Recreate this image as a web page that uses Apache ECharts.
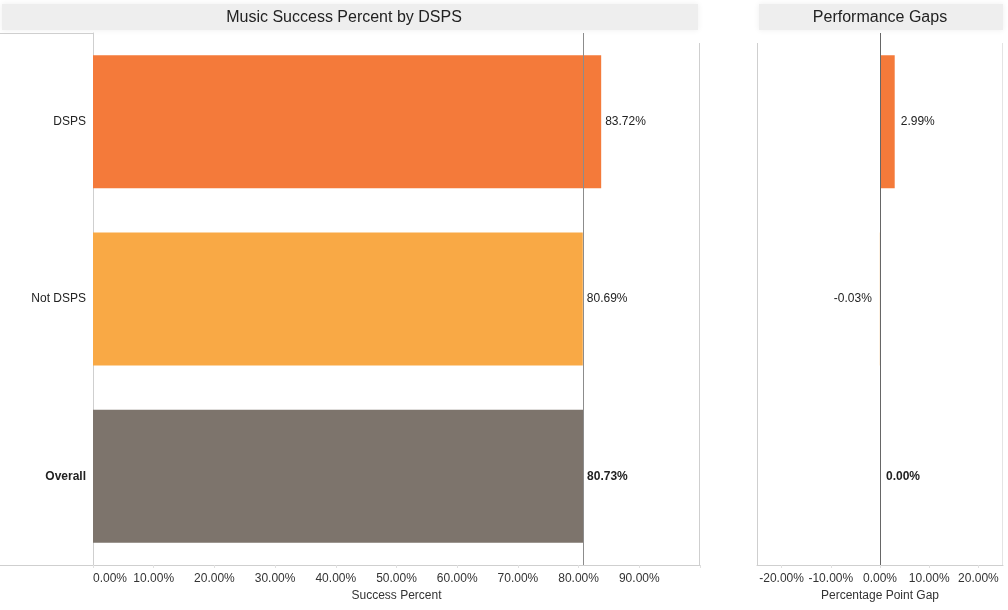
<!DOCTYPE html>
<html>
<head>
<meta charset="utf-8">
<script src="https://cdn.jsdelivr.net/npm/echarts@6/dist/echarts.min.js"></script>
<style>
html,body{margin:0;padding:0;background:#fff;}
#chart{width:1008px;height:610px;}
</style>
</head>
<body>
<div id="chart"></div>
<script>
// ---- data ----
var categories = ['DSPS', 'Not DSPS', 'Overall'];
var successPct = [83.72, 80.69, 80.73];
var gapPct = [2.99, -0.03, 0.00];
var overallRef = 80.73;
var leftTicks = [0, 10, 20, 30, 40, 50, 60, 70, 80, 90];
var rightTicks = [-20, -10, 0, 10, 20];

// ---- styles ----
var barColors = ['#F47A3A', '#F9A945', '#7D746C'];
var boldCat = 'Overall';

function pct(v) { return v.toFixed(2) + '%'; }

var chart = echarts.init(document.getElementById('chart'), null, {renderer: 'canvas'});

var leftData = successPct.map(function (v, i) {
  return {
    value: v,
    itemStyle: {color: barColors[i]},
    label: {fontWeight: categories[i] === boldCat ? 'bold' : 'normal'}
  };
});
var rightData = gapPct.map(function (v, i) {
  return {
    value: v,
    itemStyle: {color: barColors[i]},
    label: {
      fontWeight: categories[i] === boldCat ? 'bold' : 'normal',
      position: v < 0 ? 'left' : 'right',
      distance: v < 0 ? 8 : 6
    }
  };
});

var lineColor = '#cfcfcf';

var option = {
  animation: false,
  backgroundColor: '#ffffff',
  textStyle: {fontFamily: 'Liberation Sans, Arial, sans-serif'},
  grid: [
    {left: 93, right: 308, top: 33, bottom: 45},
    {left: 757, right: 5, top: 33, bottom: 45}
  ],
  xAxis: [
    {
      gridIndex: 0, type: 'value', min: 0, max: 100, interval: 10,
      axisLine: {show: true, lineStyle: {color: lineColor}},
      axisTick: {show: true, length: 3, lineStyle: {color: '#e0e0e0'}},
      splitLine: {show: false},
      axisLabel: {
        color: '#333', fontSize: 12, margin: 8,
        alignMinLabel: 'left',
        customValues: leftTicks,
        formatter: function (v) { return pct(v); }
      },
      name: 'Success Percent', nameLocation: 'middle', nameGap: 25,
      nameTextStyle: {color: '#333', fontSize: 12}
    },
    {
      gridIndex: 1, type: 'value', min: -25, max: 25,
      axisLine: {show: true, lineStyle: {color: lineColor}},
      axisTick: {show: true, length: 3, customValues: rightTicks, lineStyle: {color: '#e0e0e0'}},
      splitLine: {show: false},
      axisLabel: {
        color: '#333', fontSize: 12, margin: 8,
        customValues: rightTicks,
        formatter: function (v) { return pct(v); }
      },
      name: 'Percentage Point Gap', nameLocation: 'middle', nameGap: 25,
      nameTextStyle: {color: '#333', fontSize: 12}
    }
  ],
  yAxis: [
    {
      gridIndex: 0, type: 'category', data: categories, inverse: true,
      axisLine: {show: true, lineStyle: {color: lineColor}},
      axisTick: {show: false},
      axisLabel: {
        color: '#222', fontSize: 12, margin: 7,
        formatter: function (v) { return v === boldCat ? '{b|' + v + '}' : v; },
        rich: {b: {fontWeight: 'bold', fontSize: 12, color: '#222'}}
      }
    },
    {
      gridIndex: 1, type: 'category', data: categories, inverse: true,
      axisLine: {show: false}, axisTick: {show: false}, axisLabel: {show: false}
    }
  ],
  series: [
    {
      type: 'bar', xAxisIndex: 0, yAxisIndex: 0, data: leftData,
      barCategoryGap: '25%',
      label: {show: true, position: 'right', distance: 4, color: '#222', fontSize: 12,
        formatter: function (p) { return pct(p.value); }},
      markLine: {
        silent: true, symbol: 'none', label: {show: false},
        lineStyle: {color: '#8c8c8c', width: 1, type: 'solid'},
        data: [{xAxis: overallRef}]
      }
    },
    {
      type: 'bar', xAxisIndex: 1, yAxisIndex: 1, data: rightData,
      barCategoryGap: '25%',
      label: {show: true, position: 'right', color: '#222', fontSize: 12,
        formatter: function (p) { return pct(p.value); }},
      markLine: {
        silent: true, symbol: 'none', label: {show: false},
        lineStyle: {color: '#666', width: 1, type: 'solid'},
        data: [{xAxis: 0}]
      }
    }
  ],
  graphic: [
    {type: 'rect', z: -1, shape: {x: 2, y: 4, width: 696, height: 26},
      style: {fill: '#eeeeee', shadowBlur: 6, shadowColor: '#eeeeee'}},
    {type: 'rect', z: -1, shape: {x: 759, y: 4, width: 244, height: 26},
      style: {fill: '#eeeeee', shadowBlur: 6, shadowColor: '#eeeeee'}},
    {type: 'text', x: 344, y: 18, style: {text: 'Music Success Percent by DSPS', fill: '#222',
      font: '16px "Liberation Sans", Arial, sans-serif', textAlign: 'center', textVerticalAlign: 'middle'}},
    {type: 'text', x: 880, y: 18, style: {text: 'Performance Gaps', fill: '#222',
      font: '16px "Liberation Sans", Arial, sans-serif', textAlign: 'center', textVerticalAlign: 'middle'}},
    {type: 'line', shape: {x1: 0, y1: 565.5, x2: 93, y2: 565.5}, style: {stroke: lineColor, lineWidth: 1}},
    {type: 'line', shape: {x1: 0, y1: 33.5, x2: 93, y2: 33.5}, style: {stroke: lineColor, lineWidth: 1}},
    {type: 'line', shape: {x1: 699.5, y1: 43, x2: 699.5, y2: 565}, style: {stroke: lineColor, lineWidth: 1}},
    {type: 'line', shape: {x1: 757.5, y1: 43, x2: 757.5, y2: 565}, style: {stroke: lineColor, lineWidth: 1}},
    {type: 'line', shape: {x1: 1002.5, y1: 43, x2: 1002.5, y2: 565}, style: {stroke: '#e4e4e4', lineWidth: 1}}
  ]
};
chart.setOption(option);
</script>
</body>
</html>
